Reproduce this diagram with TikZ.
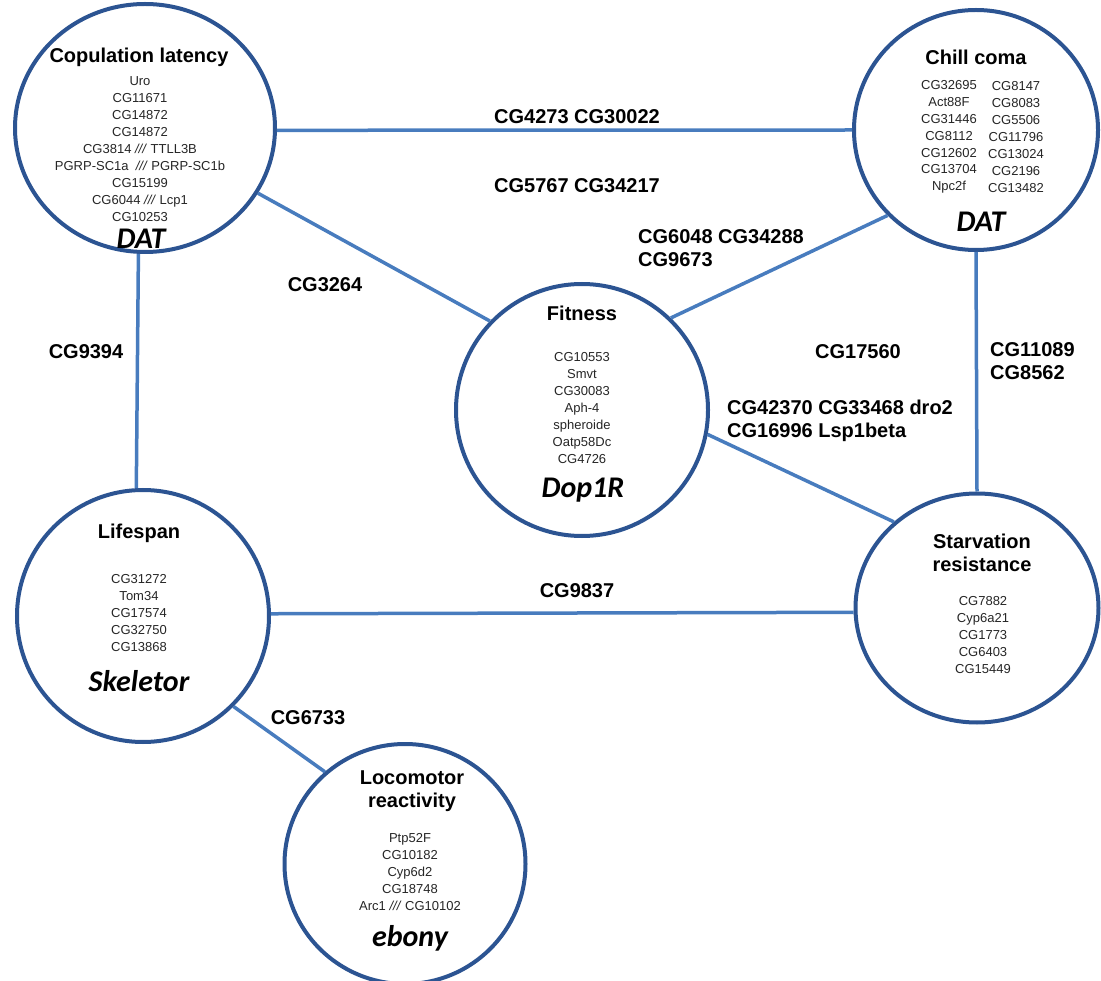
\documentclass[tikz,border=0pt]{standalone}
\usepackage{fontspec}
\setmainfont{Liberation Sans}
\newfontfamily\calib{Carlito}
\usetikzlibrary{shapes.geometric}
\definecolor{circcol}{RGB}{44,84,146}
\definecolor{conncol}{RGB}{72,124,190}
\begin{document}
\begin{tikzpicture}[x=1pt,y=-1pt,
  trait/.style={draw=circcol, line width=4pt, ellipse, inner sep=0pt, fill=white},
  conn/.style={draw=conncol, line width=3.5pt},
  ttl/.style={font=\fontsize{20}{23}\selectfont\bfseries, align=center, inner sep=0pt},
  genes/.style={font=\fontsize{13}{16.9}\selectfont, text=black!85, align=center, inner sep=0pt},
  cand/.style={font=\calib\fontsize{30}{30}\selectfont\bfseries\itshape, inner sep=0pt},
  elab/.style={font=\fontsize{20}{23.5}\selectfont\bfseries, align=left, inner sep=0pt},
]
\useasboundingbox (0,0) rectangle (1101,981);
\clip (0,0) rectangle (1101,981);

% trait circles
\node[trait, minimum width=260pt, minimum height=248pt] (cop) at (145,128) {};
\node[trait, minimum width=244pt, minimum height=240pt] (chill) at (976,130) {};
\node[trait, minimum width=252pt, minimum height=252pt] (fit) at (582,410) {};
\node[trait, minimum width=252pt, minimum height=252pt] (life) at (143,616) {};
\node[trait, minimum width=243pt, minimum height=229pt] (starv) at (977,608) {};
\node[trait, minimum width=241pt, minimum height=240pt] (loco) at (405,864) {};

% connectors
\draw[conn] (cop.-1.2) -- (chill.west);
\draw[conn] (cop.-30) -- (fit.136);
\draw[conn] (chill.224) -- (fit.46);
\draw[conn] (cop.267) -- (life.93);
\draw[conn] (chill.south) -- (starv.north);
\draw[conn] (fit.-11) -- (starv.134);
\draw[conn] (life.1.3) -- (starv.182.5);
\draw[conn] (life.-45) -- (loco.131);

% Copulation latency
\node[ttl] (copT) at (139,57) {Copulation latency};
\node[genes] (copG) at (140,149) {Uro\\CG11671\\CG14872\\CG14872\\CG3814 \textit{///} TTLL3B\\PGRP-SC1a \ \textit{///} PGRP-SC1b\\CG15199\\CG6044 \textit{///} Lcp1\\CG10253};
\node[cand] (copC) at (141,239) {DAT};

% Chill coma
\node[ttl] (chillT) at (976,57) {Chill coma};
\node[genes] (chillG1) at (949,137) {CG32695\\Act88F\\CG31446\\CG8112\\CG12602\\CG13704\\Npc2f};
\node[genes] (chillG2) at (1016,137) {CG8147\\CG8083\\CG5506\\CG11796\\CG13024\\CG2196\\CG13482};
\node[cand] (chillC) at (981,222) {DAT};

% Fitness
\node[ttl] (fitT) at (582,313) {Fitness};
\node[genes] (fitG) at (582,408) {CG10553\\Smvt\\CG30083\\Aph-4\\spheroide\\Oatp58Dc\\CG4726};
\node[cand] (fitC) at (583,490) {Dop1R};

% Lifespan
\node[ttl] (lifeT) at (139,533) {Lifespan};
\node[genes] (lifeG) at (139,613) {CG31272\\Tom34\\CG17574\\CG32750\\CG13868};
\node[cand] (lifeC) at (139,681) {Skeletor};

% Starvation resistance
\node[ttl] (starvT) at (982,553) {Starvation\\resistance};
\node[genes] (starvG) at (983,635) {CG7882\\Cyp6a21\\CG1773\\CG6403\\CG15449};

% Locomotor reactivity
\node[ttl] (locoT) at (412,791) {Locomotor\\reactivity};
\node[genes] (locoG) at (410,872) {Ptp52F\\CG10182\\Cyp6d2\\CG18748\\Arc1 \textit{///} CG10102};
\node[cand] (locoC) at (410,938) {ebony};

% edge labels
\node[elab] (l1) at (577,117) {CG4273 CG30022};
\node[elab] (l2) at (577,186) {CG5767 CG34217};
\node[elab] (l3) at (325,285) {CG3264};
\node[elab, anchor=west] (l4) at (638,248) {CG6048 CG34288\\CG9673};
\node[elab] (l5) at (86,352) {CG9394};
\node[elab] (l6) at (858,352) {CG17560};
\node[elab, anchor=west] (l7) at (727,421) {CG42370 CG33468 dro2\\CG16996 Lsp1beta};
\node[elab, anchor=west] (l8) at (990,361) {CG11089\\CG8562};
\node[elab] (l9) at (577,591) {CG9837};
\node[elab] (l10) at (308,718) {CG6733};
\end{tikzpicture}
\end{document}
